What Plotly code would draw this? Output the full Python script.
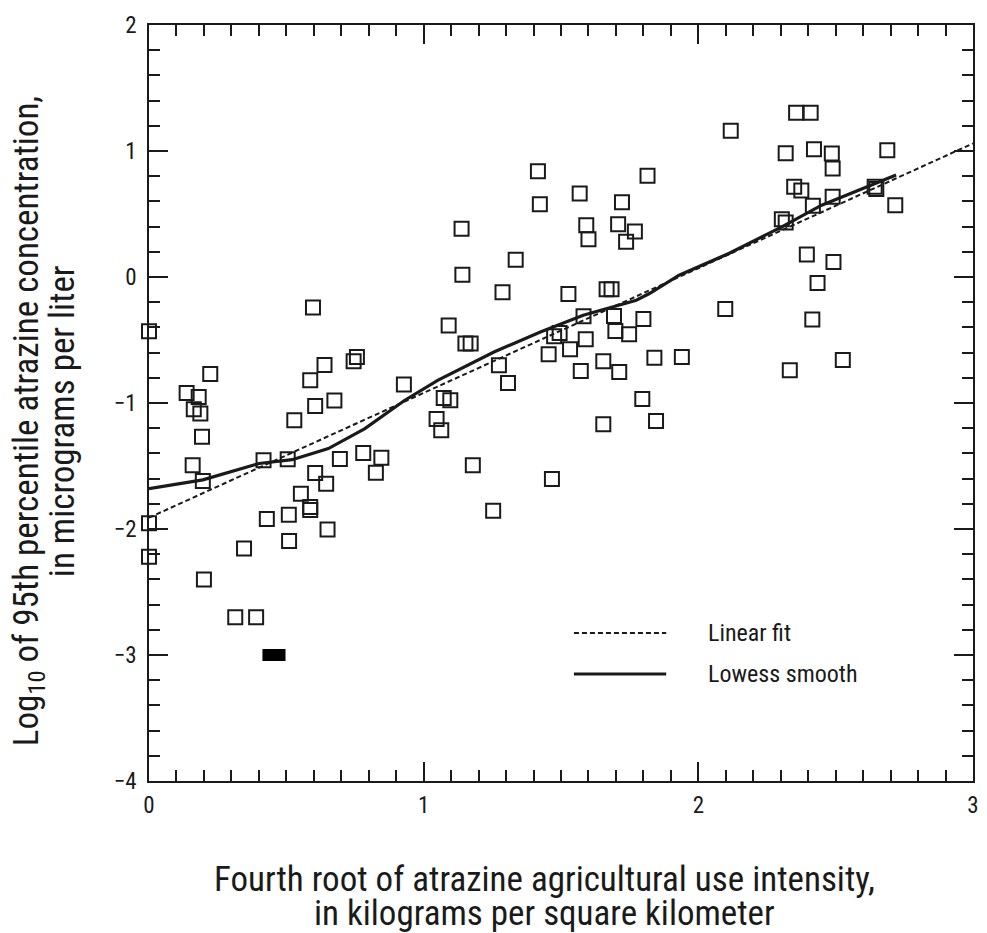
import plotly.graph_objects as go

# ---- data ----
obs_x = [0.0, 0.0, 0.0, 0.137, 0.181, 0.163, 0.187, 0.223, 0.193, 0.159, 0.196, 0.2,
         0.346, 0.314, 0.39, 0.429, 0.417, 0.505, 0.509, 0.51, 0.529, 0.553, 0.587, 0.587,
         0.587, 0.597, 0.605, 0.605, 0.639, 0.645, 0.65, 0.675, 0.695, 0.745, 0.757, 0.78,
         0.826, 0.846, 0.928,
         1.047, 1.064, 1.073, 1.097, 1.091, 1.138, 1.141, 1.152, 1.171, 1.179, 1.253, 1.274,
         1.287, 1.307, 1.335, 1.416, 1.423, 1.455, 1.467, 1.475, 1.495, 1.527, 1.533, 1.568,
         1.572, 1.582, 1.59, 1.592, 1.6, 1.654, 1.654, 1.666, 1.684, 1.693, 1.698, 1.708,
         1.712, 1.722, 1.737, 1.748, 1.769, 1.796, 1.8, 1.815, 1.84, 1.846, 1.94,
         2.098, 2.118, 2.304, 2.318, 2.318, 2.333, 2.349, 2.356, 2.375, 2.395, 2.409, 2.415,
         2.417, 2.421, 2.434, 2.486, 2.489, 2.489, 2.492, 2.526, 2.642, 2.648, 2.688, 2.717]
obs_y = [-0.43, -1.955, -2.22, -0.92, -0.952, -1.05, -1.084, -0.77, -1.267, -1.494, -1.62, -2.40,
         -2.155, -2.70, -2.70, -1.92, -1.455, -1.447, -1.886, -2.096, -1.137, -1.72, -1.826, -1.85,
         -0.82, -0.242, -1.024, -1.556, -0.698, -1.64, -2.003, -0.981, -1.445, -0.669, -0.635, -1.397,
         -1.553, -1.434, -0.854,
         -1.127, -1.217, -0.96, -0.979, -0.385, 0.382, 0.017, -0.528, -0.528, -1.495, -1.855, -0.70,
         -0.121, -0.841, 0.136, 0.84, 0.578, -0.613, -1.604, -0.47, -0.445, -0.134, -0.573, 0.663,
         -0.746, -0.311, -0.494, 0.411, 0.30, -0.669, -1.169, -0.097, -0.097, -0.309, -0.428, 0.419,
         -0.754, 0.594, 0.279, -0.454, 0.361, -0.968, -0.333, 0.803, -0.64, -1.143, -0.635,
         -0.253, 1.16, 0.459, 0.433, 0.983, -0.74, 0.716, 1.304, 0.687, 0.179, 1.304, -0.338,
         0.565, 1.013, -0.047, 0.981, 0.862, 0.637, 0.12, -0.658, 0.716, 0.698, 1.005, 0.570]

# censored value drawn as a filled bar
cens_x = [0.413, 0.497]
cens_y = [-3.0, -3.0]

fit_x = [0.0, 3.0]
fit_y = [-1.91, 1.06]

lowess_x = [0.0, 0.196, 0.401, 0.521, 0.653, 0.786, 0.93, 1.051, 1.256, 1.425, 1.581,
            1.774, 1.822, 1.93, 2.111, 2.304, 2.449, 2.63, 2.72]
lowess_y = [-1.68, -1.61, -1.48, -1.45, -1.362, -1.203, -0.98, -0.82, -0.595, -0.436, -0.303,
            -0.184, -0.131, 0.014, 0.187, 0.398, 0.57, 0.729, 0.809]

x_ticks = [0, 1, 2, 3]
y_ticks = [-4, -3, -2, -1, 0, 1, 2]

FONT = "Liberation Sans Narrow, Arial Narrow, Roboto Condensed, sans-serif"
INK = "#1a1a1a"

fig = go.Figure()
fig.add_trace(go.Scatter(x=fit_x, y=fit_y, mode="lines",
                         line=dict(color=INK, width=2, dash="5px,3px"), showlegend=False))
fig.add_trace(go.Scatter(x=lowess_x, y=lowess_y, mode="lines",
                         line=dict(color=INK, width=3.2), showlegend=False))
fig.add_trace(go.Scatter(x=obs_x, y=obs_y, mode="markers", cliponaxis=False,
                         marker=dict(symbol="square-open", size=14, color=INK,
                                     line=dict(width=2, color=INK)),
                         showlegend=False))
fig.add_trace(go.Scatter(x=cens_x, y=cens_y, mode="lines",
                         line=dict(color="#000000", width=12), showlegend=False))

axis_common = dict(showgrid=False, zeroline=False, showline=True, linecolor=INK, linewidth=1.6,
                   ticks="inside", ticklen=19, tickwidth=1.6, tickcolor=INK, mirror="allticks",
                   tickfont=dict(family=FONT, size=23, color=INK))
fig.update_xaxes(range=[0, 3], tickvals=x_ticks, ticklabelstandoff=3,
                 minor=dict(dtick=0.1, ticks="inside", ticklen=11, tickwidth=1.6, tickcolor=INK),
                 **axis_common)
fig.update_yaxes(range=[-4, 2], tickvals=y_ticks, ticklabelstandoff=6,
                 minor=dict(dtick=0.2, ticks="inside", ticklen=11, tickwidth=1.6, tickcolor=INK),
                 **axis_common)

ann = []
tfont = dict(family=FONT, size=35, color=INK)
ann.append(dict(text="Fourth root of atrazine agricultural use intensity,", xref="paper", yref="paper",
                x=0.4795, y=0, yshift=-98, xanchor="center", yanchor="middle", showarrow=False, font=tfont))
ann.append(dict(text="in kilograms per square kilometer", xref="paper", yref="paper",
                x=0.4795, y=0, yshift=-132, xanchor="center", yanchor="middle", showarrow=False, font=tfont))
ann.append(dict(text="Log<sub>10</sub> of 95th percentile atrazine concentration,", xref="paper", yref="paper",
                x=0, y=0.476, xshift=-121, xanchor="center", yanchor="middle", textangle=-90,
                showarrow=False, font=tfont))
ann.append(dict(text="in micrograms per liter", xref="paper", yref="paper",
                x=0, y=0.476, xshift=-87, xanchor="center", yanchor="middle", textangle=-90,
                showarrow=False, font=tfont))
lfont = dict(family=FONT, size=24, color=INK)
ann.append(dict(text="Linear fit", xref="paper", yref="paper", x=0.676, y=0.1958,
                xanchor="left", yanchor="middle", showarrow=False, font=lfont))
ann.append(dict(text="Lowess smooth", xref="paper", yref="paper", x=0.676, y=0.1415,
                xanchor="left", yanchor="middle", showarrow=False, font=lfont))

shapes = [
    dict(type="line", xref="paper", yref="paper", x0=0.5157, x1=0.6277, y0=0.1958, y1=0.1958,
         line=dict(color=INK, width=2, dash="5px,3px")),
    dict(type="line", xref="paper", yref="paper", x0=0.5157, x1=0.6277, y0=0.1415, y1=0.1415,
         line=dict(color=INK, width=3)),
]

fig.update_layout(width=987, height=933, margin=dict(l=149, r=8, t=25, b=152),
                  plot_bgcolor="white", paper_bgcolor="white",
                  annotations=ann, shapes=shapes, showlegend=False)

fig.write_html("out.html")
